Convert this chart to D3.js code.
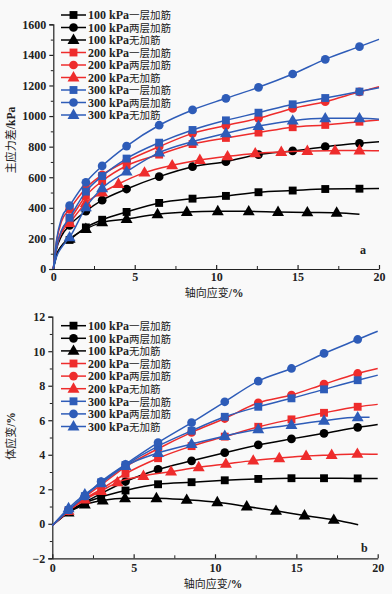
<!DOCTYPE html>
<html><head><meta charset="utf-8">
<script src="https://cdn.jsdelivr.net/npm/d3@7"></script>
<style>
html,body{margin:0;padding:0;background:#f9f9f9;}
svg{display:block;}
</style></head>
<body><div id="chart"></div>
<script>
// ---------- data ----------
const legendNames = ["100 kPa一层加筋","100 kPa两层加筋","100 kPa无加筋","200 kPa一层加筋","200 kPa两层加筋","200 kPa无加筋","300 kPa一层加筋","300 kPa两层加筋","300 kPa无加筋"];
const xTicks = [0, 5, 10, 15, 20];
const yTicksA = [0, 200, 400, 600, 800, 1000, 1200, 1400, 1600];
const yTicksB = [-2, 0, 2, 4, 6, 8, 10, 12];

// panel a: marker strain positions (%)
const axStd = [1, 2, 3, 4.5, 6.5, 8.55, 10.6, 12.6, 14.7, 16.7, 18.8];
const axTri100 = [1, 2, 3, 4.5, 6.4, 8.2, 10.1, 12, 13.8, 15.6, 17.4];
const axTri200 = [1, 2, 3, 4, 5.6, 7.3, 9, 10.7, 12.4, 14, 15.6, 17.3, 18.8];
// panel a: principal stress difference (kPa) at markers
const a100one = [190, 272, 322, 373, 432, 460, 478, 502, 513, 523, 525];
const a100two = [285, 378, 450, 523, 604, 669, 702, 748, 772, 800, 822];
const a100non = [197, 262, 305, 327, 358, 373, 378, 377, 373, 370, 368];
const a200one = [320, 478, 575, 675, 748, 817, 857, 892, 927, 942, 963];
const a200two = [390, 528, 615, 705, 800, 887, 938, 985, 1050, 1094, 1158];
const a200non = [300, 432, 500, 556, 630, 678, 713, 737, 756, 765, 772, 774, 775];
const a300one = [335, 506, 608, 722, 826, 909, 972, 1022, 1077, 1118, 1160];
const a300two = [414, 567, 674, 804, 940, 1040, 1116, 1188, 1275, 1371, 1454];
const a300non = [207, 403, 528, 637, 761, 833, 887, 935, 970, 985, 985];
// panel a: unmarked curve points [strain, value] (start, knee, end)
const aExt100one = [[0, 0], [0.2, 90], [0.5, 150], [20, 527]];
const aExt100two = [[0, 0], [0.2, 130], [0.5, 215], [20, 832]];
const aExt100non = [[0, 0], [0.2, 90], [0.5, 150], [18.8, 358]];
const aExt200one = [[0, 0], [0.2, 150], [0.5, 250], [20, 975]];
const aExt200two = [[0, 0], [0.2, 180], [0.5, 310], [20, 1192]];
const aExt200non = [[0, 0], [0.2, 140], [0.5, 235], [20, 773]];
const aExt300one = [[0, 0], [0.2, 140], [0.5, 250], [20, 1185]];
const aExt300two = [[0, 0], [0.2, 190], [0.5, 330], [20, 1502]];
const aExt300non = [[0, 0], [0.2, 80], [0.5, 140], [20, 979]];

// panel b: marker strain positions (%)
const bxStd = [1, 2, 3, 4.5, 6.5, 8.56, 10.6, 12.66, 14.7, 16.7, 18.77];
const bxTri100 = [1, 2, 3.1, 4.47, 6.4, 8.26, 10.14, 11.95, 13.75, 15.5, 17.3];
const bxTri200 = [1, 2, 3, 4, 5.6, 7.3, 9, 10.67, 12.35, 13.95, 15.6, 17.17, 18.75];
// panel b: volumetric strain (%) at markers
const b100one = [0.7, 1.2, 1.55, 1.93, 2.29, 2.41, 2.52, 2.6, 2.64, 2.64, 2.63];
const b100two = [0.7, 1.25, 1.75, 2.45, 3.15, 3.65, 4.12, 4.57, 4.92, 5.24, 5.59];
const b100non = [0.65, 1.12, 1.35, 1.48, 1.48, 1.39, 1.25, 1.0, 0.75, 0.48, 0.23];
const b200one = [0.75, 1.45, 2.0, 2.9, 3.8, 4.5, 5.05, 5.62, 6.05, 6.43, 6.78];
const b200two = [0.75, 1.55, 2.25, 3.3, 4.35, 5.3, 6.1, 7.01, 7.46, 8.09, 8.71];
const b200non = [0.75, 1.4, 1.9, 2.4, 2.77, 3.02, 3.28, 3.47, 3.66, 3.8, 3.93, 3.99, 4.05];
const b300one = [0.8, 1.6, 2.4, 3.4, 4.5, 5.39, 6.2, 6.78, 7.27, 7.79, 8.32];
const b300two = [0.8, 1.62, 2.45, 3.45, 4.7, 5.86, 7.07, 8.27, 9.0, 9.87, 10.68];
const b300non = [0.9, 1.7, 2.35, 3.35, 4.1, 4.62, 5.09, 5.47, 5.72, 5.97, 6.17];
const bExt100one = [[0, -0.1], [20, 2.63]];
const bExt100two = [[0, -0.1], [20, 5.76]];
const bExt100non = [[0, -0.1], [18.8, -0.05]];
const bExt200one = [[0, -0.1], [20, 6.92]];
const bExt200two = [[0, -0.1], [20, 9.0]];
const bExt200non = [[0, -0.1], [20, 4.03]];
const bExt300one = [[0, -0.1], [20, 8.61]];
const bExt300two = [[0, -0.1], [20, 11.16]];
const bExt300non = [[0, -0.1], [19.5, 6.17]];

// ---------- styles ----------
const colors = ["#000000", "#000000", "#000000", "#ee2c2c", "#ee2c2c", "#ee2c2c", "#2e5cb8", "#2e5cb8", "#2e5cb8"];
const shapes = [d3.symbolSquare, d3.symbolCircle, d3.symbolTriangle, d3.symbolSquare, d3.symbolCircle, d3.symbolTriangle, d3.symbolSquare, d3.symbolCircle, d3.symbolTriangle];
const symSize = {square: 62, circle: 60, triangle: 62};
function sizeOf(s){ return s === d3.symbolSquare ? symSize.square : (s === d3.symbolCircle ? symSize.circle : symSize.triangle); }

const W = 392, H = 594;
const svg = d3.select("#chart").append("svg").attr("width", W).attr("height", H);
svg.append("rect").attr("width", W).attr("height", H).attr("fill", "#f9f9f9");

const latinFont = "'Liberation Serif','DejaVu Serif',serif";
const cjkFont = "'Noto Sans CJK SC','Noto Sans CJK JP',sans-serif";

function mixedText(sel, str, size, cjkSize){
  const parts = str.match(/[\u0000-\u024f]+|[^\u0000-\u024f]+/g);
  parts.forEach(p => {
    const isLatin = /^[\u0000-\u024f]+$/.test(p);
    sel.append("tspan").text(p)
      .attr("font-family", isLatin ? latinFont : cjkFont)
      .attr("font-weight", isLatin ? "bold" : "normal")
      .attr("font-size", isLatin ? size : cjkSize);
  });
}

function panel(cfg){
  const x = d3.scaleLinear().domain([0, 20]).range([cfg.x0, cfg.x1]);
  const y = d3.scaleLinear().domain(cfg.yDomain).range([cfg.yb, cfg.yt]);
  const g = svg.append("g");

  // y axis
  const yAxis = d3.axisLeft(y).tickValues(cfg.yTicks).tickSize(4).tickPadding(3).tickFormat(d => d < 0 ? "\u22122" : d);
  const ya = g.append("g").attr("transform", `translate(${cfg.x0},0)`).call(yAxis);
  ya.select(".domain").attr("stroke", "#222").attr("stroke-width", 1.2);
  ya.selectAll(".tick line").attr("stroke", "#222").attr("stroke-width", 1.2);
  ya.selectAll(".tick text").attr("font-family", latinFont).attr("font-weight", "bold").attr("font-size", 12).attr("fill", "#222");
  const yMinor = d3.axisLeft(y).tickValues(cfg.yMinor).tickSize(2.5).tickFormat("");
  const ym = g.append("g").attr("transform", `translate(${cfg.x0},0)`).call(yMinor);
  ym.select(".domain").remove();
  ym.selectAll(".tick line").attr("stroke", "#222");

  // x axis (ticks inward)
  const xAxis = d3.axisBottom(x).tickValues(xTicks).tickSizeInner(-4).tickSizeOuter(0).tickPadding(cfg.xPad);
  const xa = g.append("g").attr("transform", `translate(0,${cfg.yb})`).call(xAxis);
  xa.select(".domain").attr("stroke", "#222").attr("stroke-width", 1.2);
  xa.selectAll(".tick line").attr("stroke", "#222").attr("stroke-width", 1.2);
  xa.selectAll(".tick text").attr("font-family", latinFont).attr("font-weight", "bold").attr("font-size", 12).attr("fill", "#222");
  const xMinor = d3.axisBottom(x).tickValues([2.5, 7.5, 12.5, 17.5]).tickSize(-3).tickFormat("");
  const xm = g.append("g").attr("transform", `translate(0,${cfg.yb})`).call(xMinor);
  xm.select(".domain").remove();
  xm.selectAll(".tick line").attr("stroke", "#222");

  // series
  const line = d3.line().x(d => x(d[0])).y(d => y(d[1])).curve(d3.curveMonotoneX);
  cfg.series.forEach((s, i) => {
    const marks = s.xs.map((xv, k) => [xv, s.vals[k]]);
    const pts = marks.concat(s.ext).sort((a, b) => a[0] - b[0]);
    g.append("path").datum(pts).attr("d", line)
      .attr("fill", "none").attr("stroke", colors[i]).attr("stroke-width", 1.5);
    g.selectAll(null).data(marks).enter().append("path")
      .attr("d", d3.symbol().type(shapes[i]).size(sizeOf(shapes[i])))
      .attr("transform", d => `translate(${x(d[0])},${y(d[1]) + (shapes[i] === d3.symbolTriangle ? 0.5 : 0)})`)
      .attr("fill", colors[i]);
  });

  // legend
  legendNames.forEach((nm, i) => {
    const ly = cfg.legY + i * cfg.legStep;
    g.append("line").attr("x1", 61).attr("x2", 86).attr("y1", ly).attr("y2", ly)
      .attr("stroke", colors[i]).attr("stroke-width", 1.5);
    g.append("path").attr("d", d3.symbol().type(shapes[i]).size(sizeOf(shapes[i])))
      .attr("transform", `translate(73.5,${ly + (shapes[i] === d3.symbolTriangle ? 0.5 : 0)})`).attr("fill", colors[i]);
    const t = g.append("text").attr("x", 88).attr("y", ly + 4.3).attr("fill", "#222");
    mixedText(t, nm, 12, 10.5);
  });

  // axis titles
  const xt = g.append("text").attr("x", (cfg.x0 + cfg.x1) / 2 - 2).attr("y", cfg.yb + cfg.titleOff).attr("text-anchor", "middle").attr("fill", "#222");
  mixedText(xt, "轴向应变/%", 11.5, 11);
  const yt = g.append("text").attr("transform", `translate(15,${cfg.yLabelY}) rotate(-90)`).attr("text-anchor", "middle").attr("fill", "#222");
  mixedText(yt, cfg.yLabel, 11.5, 11);

  g.append("text").attr("x", cfg.tagX).attr("y", cfg.tagY).text(cfg.tag)
    .attr("font-family", latinFont).attr("font-weight", "bold").attr("font-size", 12).attr("fill", "#222");
}

panel({
  x0: 53.3, x1: 379, yb: 269, yt: 24.3, yDomain: [0, 1600], yTicks: yTicksA,
  yMinor: d3.range(100, 1600, 200), xPad: 3, titleOff: 28,
  legY: 15, legStep: 12.5, yLabel: "主应力差/kPa", yLabelY: 140, tag: "a", tagX: 360, tagY: 254,
  series: [
    {xs: axStd, vals: a100one, ext: aExt100one},
    {xs: axStd, vals: a100two, ext: aExt100two},
    {xs: axTri100, vals: a100non, ext: aExt100non},
    {xs: axStd, vals: a200one, ext: aExt200one},
    {xs: axStd, vals: a200two, ext: aExt200two},
    {xs: axTri200, vals: a200non, ext: aExt200non},
    {xs: axStd, vals: a300one, ext: aExt300one},
    {xs: axStd, vals: a300two, ext: aExt300two},
    {xs: axStd, vals: a300non, ext: aExt300non}
  ]
});

panel({
  x0: 52.3, x1: 377.7, yb: 558.3, yt: 316.7, yDomain: [-2, 12], yTicks: yTicksB,
  yMinor: d3.range(-1, 12, 2), xPad: 5, titleOff: 29.5,
  legY: 325.7, legStep: 12.6, yLabel: "体应变/%", yLabelY: 436, tag: "b", tagX: 361, tagY: 552,
  series: [
    {xs: bxStd, vals: b100one, ext: bExt100one},
    {xs: bxStd, vals: b100two, ext: bExt100two},
    {xs: bxTri100, vals: b100non, ext: bExt100non},
    {xs: bxStd, vals: b200one, ext: bExt200one},
    {xs: bxStd, vals: b200two, ext: bExt200two},
    {xs: bxTri200, vals: b200non, ext: bExt200non},
    {xs: bxStd, vals: b300one, ext: bExt300one},
    {xs: bxStd, vals: b300two, ext: bExt300two},
    {xs: bxStd, vals: b300non, ext: bExt300non}
  ]
});
</script>
</body></html>
